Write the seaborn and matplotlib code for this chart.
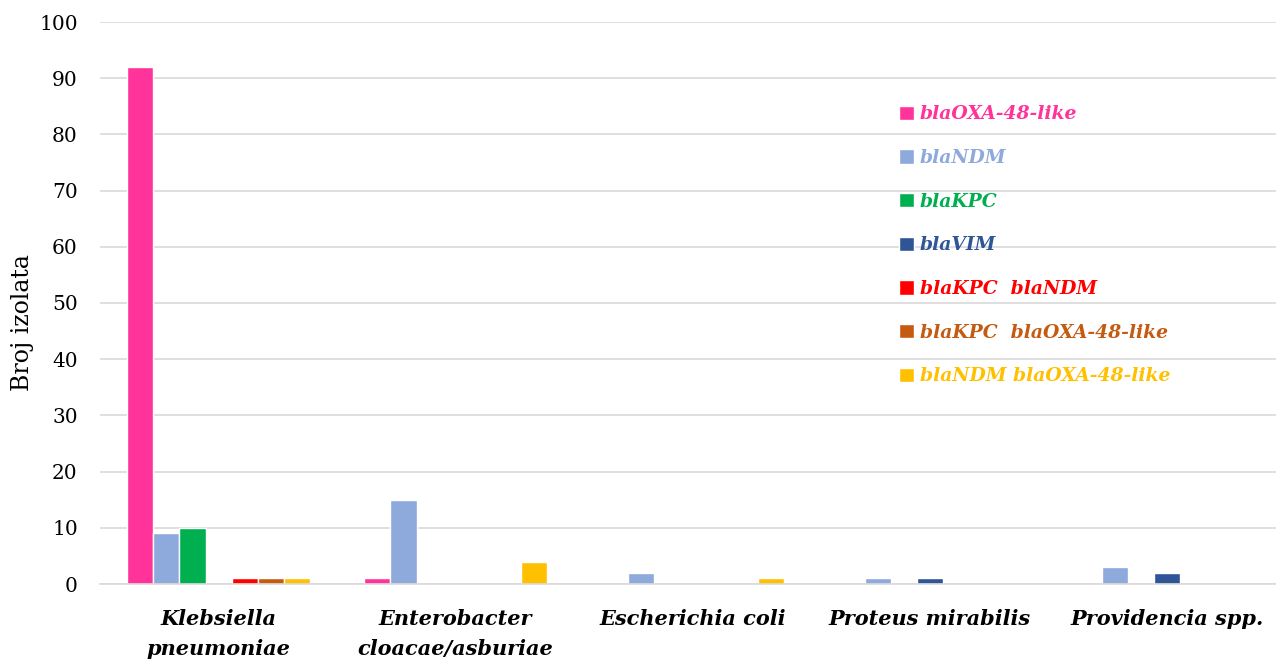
import matplotlib
matplotlib.use('Agg')
import matplotlib.pyplot as plt
import seaborn as sns
import pandas as pd

species = ['Klebsiella\npneumoniae', 'Enterobacter\ncloacae/asburiae', 'Escherichia coli',
           'Proteus mirabilis', 'Providencia spp.']
genes = ['blaOXA-48-like', 'blaNDM', 'blaKPC', 'blaVIM',
         'blaKPC  blaNDM', 'blaKPC  blaOXA-48-like', 'blaNDM blaOXA-48-like']
colors = ['#FF3399', '#8EA9DB', '#00B050', '#2F5597', '#FF0000', '#C55A11', '#FFC000']

oxa48 = [92, 1, 0, 0, 0]
ndm = [9, 15, 2, 1, 3]
kpc = [10, 0, 0, 0, 0]
vim = [0, 0, 0, 1, 2]
kpc_ndm = [1, 0, 0, 0, 0]
kpc_oxa = [1, 0, 0, 0, 0]
ndm_oxa = [1, 4, 1, 0, 0]

series = [oxa48, ndm, kpc, vim, kpc_ndm, kpc_oxa, ndm_oxa]
rows = []
for g, vals in zip(genes, series):
    for s, v in zip(species, vals):
        rows.append({'species': s, 'gene': g, 'count': v})
df = pd.DataFrame(rows)

sns.set_style('white')
plt.rcParams['font.family'] = ['DejaVu Serif']

fig = plt.figure(figsize=(12.76, 6.61), dpi=100)
ax = fig.add_axes([100 / 1276, 77 / 661, 1176 / 1276, 562 / 661])

sns.barplot(data=df, x='species', y='count', hue='gene', hue_order=genes,
            palette=colors, saturation=1, width=0.77, edgecolor='white', linewidth=1,
            ax=ax, legend=True)

ax.set_ylim(0, 100)
ax.set_xlim(-0.5, 4.46)
ax.set_yticks(range(0, 101, 10))
ax.yaxis.grid(True, color='#D9D9D9', linewidth=1.2)
ax.set_axisbelow(True)
for sp in ['top', 'right', 'left']:
    ax.spines[sp].set_visible(False)
ax.spines['bottom'].set_color('#D9D9D9')
ax.spines['bottom'].set_linewidth(1.2)
ax.tick_params(axis='both', length=0, labelcolor='black')
ax.tick_params(axis='y', labelsize=14.5, pad=16)
ax.tick_params(axis='x', pad=18)
for t in ax.get_xticklabels():
    t.set_fontsize(15)
    t.set_fontweight('bold')
    t.set_fontstyle('italic')
    t.set_linespacing(1.6)
ax.set_xlabel('')
ax.set_ylabel('Broj izolata', fontsize=17, color='black')
ax.yaxis.set_label_coords(-0.056, 0.466)

leg = ax.legend(loc='upper left', bbox_to_anchor=(0.665, 0.882), frameon=False,
                handlelength=0.8, handleheight=0.8, handletextpad=0.3,
                labelspacing=1.37, prop={'size': 13.5, 'weight': 'bold', 'style': 'italic'})
for txt, c in zip(leg.get_texts(), colors):
    txt.set_color(c)

fig.savefig('out.png', dpi=100)
